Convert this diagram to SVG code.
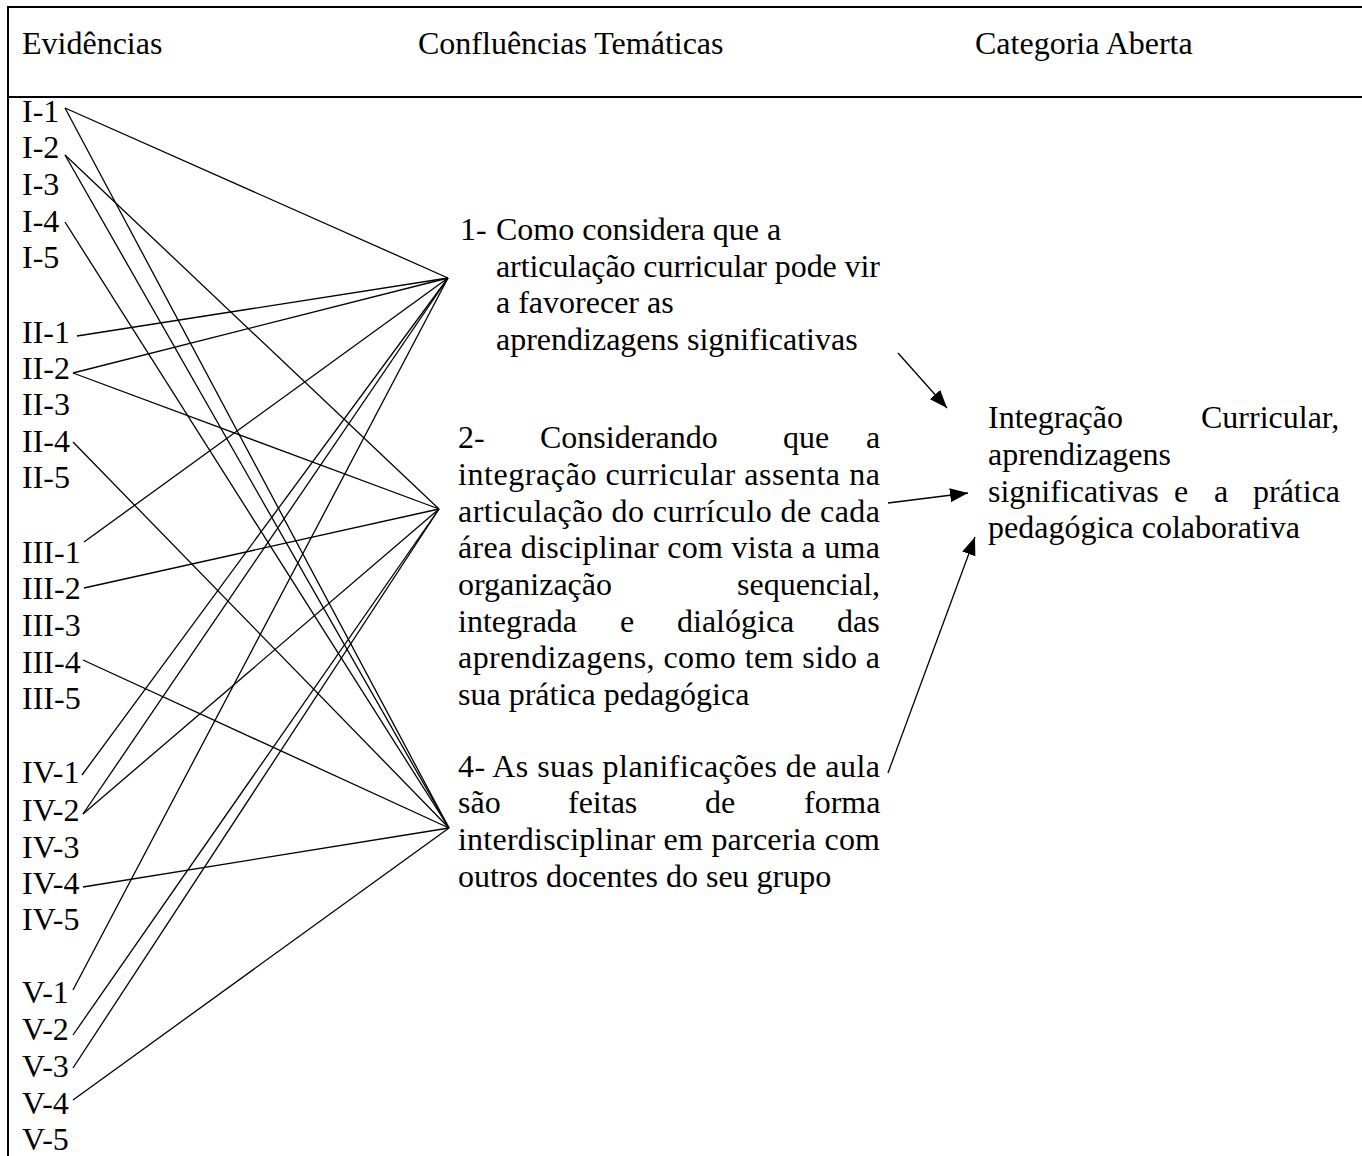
<svg xmlns="http://www.w3.org/2000/svg" width="1362" height="1156" viewBox="0 0 1362 1156">
<style>
text{font-family:"Liberation Serif","Times New Roman",serif;font-size:32px;fill:#000}
.frame{stroke:#000;stroke-width:2;fill:none}
.c{stroke:#000;stroke-width:1.3;fill:none}
.a{stroke:#000;stroke-width:1.3;fill:none;marker-end:url(#ah)}
</style>
<defs>
<marker id="ah" markerUnits="userSpaceOnUse" markerWidth="20" markerHeight="14" refX="18" refY="7" orient="auto">
<path d="M0,0 L18,7 L0,14 z" fill="#000"/>
</marker>
</defs>
<rect width="1362" height="1156" fill="#fff"/>
<g id="frame">
<path class="frame" d="M8,1156 L8,7 L1362,7 M8,97 L1362,97"/>
</g>
<g id="header">
<text x="22" y="54">Evidências</text>
<text x="418" y="54">Confluências Temáticas</text>
<text x="975" y="54">Categoria Aberta</text>
</g>
<g id="evidencias">
<text x="22" y="122">I-1</text>
<text x="22" y="158">I-2</text>
<text x="22" y="195">I-3</text>
<text x="22" y="232">I-4</text>
<text x="22" y="268">I-5</text>
<text x="22" y="343">II-1</text>
<text x="22" y="379">II-2</text>
<text x="22" y="415">II-3</text>
<text x="22" y="452">II-4</text>
<text x="22" y="488">II-5</text>
<text x="22" y="563">III-1</text>
<text x="22" y="599">III-2</text>
<text x="22" y="636">III-3</text>
<text x="22" y="673">III-4</text>
<text x="22" y="709">III-5</text>
<text x="22" y="783">IV-1</text>
<text x="22" y="821">IV-2</text>
<text x="22" y="858">IV-3</text>
<text x="22" y="894">IV-4</text>
<text x="22" y="930">IV-5</text>
<text x="22" y="1003">V-1</text>
<text x="22" y="1040">V-2</text>
<text x="22" y="1077">V-3</text>
<text x="22" y="1114">V-4</text>
<text x="22" y="1150">V-5</text>
</g>
<g id="tema1">
<text y="240"><tspan x="460">1-</tspan><tspan x="496">Como considera que a</tspan></text>
<text x="496" y="277" textLength="384" lengthAdjust="spacing">articulação curricular pode vir</text>
<text x="496" y="313">a favorecer as</text>
<text x="496" y="350">aprendizagens significativas</text>
</g>
<g id="tema2">
<text y="448"><tspan x="458">2-</tspan><tspan x="540">Considerando</tspan><tspan x="783">que</tspan><tspan x="866">a</tspan></text>
<text x="458" y="485" textLength="422" lengthAdjust="spacing">integração curricular assenta na</text>
<text x="458" y="522" textLength="422" lengthAdjust="spacing">articulação do currículo de cada</text>
<text x="458" y="558" textLength="422" lengthAdjust="spacing">área disciplinar com vista a uma</text>
<text y="595"><tspan x="458">organização</tspan><tspan x="737">sequencial,</tspan></text>
<text y="632"><tspan x="458">integrada</tspan><tspan x="620">e</tspan><tspan x="677">dialógica</tspan><tspan x="837">das</tspan></text>
<text x="458" y="668" textLength="422" lengthAdjust="spacing">aprendizagens, como tem sido a</text>
<text x="458" y="705">sua prática pedagógica</text>
</g>
<g id="tema4">
<text x="458" y="777" textLength="422" lengthAdjust="spacing">4- As suas planificações de aula</text>
<text y="813"><tspan x="458">são</tspan><tspan x="568">feitas</tspan><tspan x="705">de</tspan><tspan x="804">forma</tspan></text>
<text x="458" y="850" textLength="422" lengthAdjust="spacing">interdisciplinar em parceria com</text>
<text x="458" y="887">outros docentes do seu grupo</text>
</g>
<g id="categoria">
<text y="428"><tspan x="988">Integração</tspan><tspan x="1201">Curricular,</tspan></text>
<text x="988" y="465">aprendizagens</text>
<text y="502"><tspan x="988">significativas</tspan><tspan x="1174">e</tspan><tspan x="1214">a</tspan><tspan x="1253">prática</tspan></text>
<text x="988" y="538">pedagógica colaborativa</text>
</g>
<g id="connectors">
<line class="c" x1="65" y1="108" x2="448" y2="278"/>
<line class="c" x1="77" y1="336" x2="448" y2="278"/>
<line class="c" x1="73" y1="373" x2="448" y2="278"/>
<line class="c" x1="84" y1="542" x2="448" y2="278"/>
<line class="c" x1="82" y1="775" x2="448" y2="278"/>
<line class="c" x1="83" y1="814" x2="448" y2="278"/>
<line class="c" x1="73" y1="990" x2="448" y2="278"/>
<line class="c" x1="65" y1="155" x2="439" y2="509"/>
<line class="c" x1="73" y1="373" x2="439" y2="509"/>
<line class="c" x1="84" y1="588" x2="439" y2="509"/>
<line class="c" x1="83" y1="814" x2="439" y2="509"/>
<line class="c" x1="73" y1="1035" x2="439" y2="509"/>
<line class="c" x1="73" y1="1068" x2="439" y2="509"/>
<line class="c" x1="65" y1="108" x2="449" y2="828"/>
<line class="c" x1="65" y1="155" x2="449" y2="828"/>
<line class="c" x1="65" y1="222" x2="449" y2="828"/>
<line class="c" x1="73" y1="442" x2="449" y2="828"/>
<line class="c" x1="83" y1="660" x2="449" y2="828"/>
<line class="c" x1="83" y1="887" x2="449" y2="828"/>
<line class="c" x1="73" y1="1100" x2="449" y2="828"/>
<line class="a" x1="898" y1="353" x2="947" y2="408"/>
<line class="a" x1="888" y1="503" x2="968" y2="493"/>
<line class="a" x1="888" y1="773" x2="975" y2="537"/>
</g>
</svg>
